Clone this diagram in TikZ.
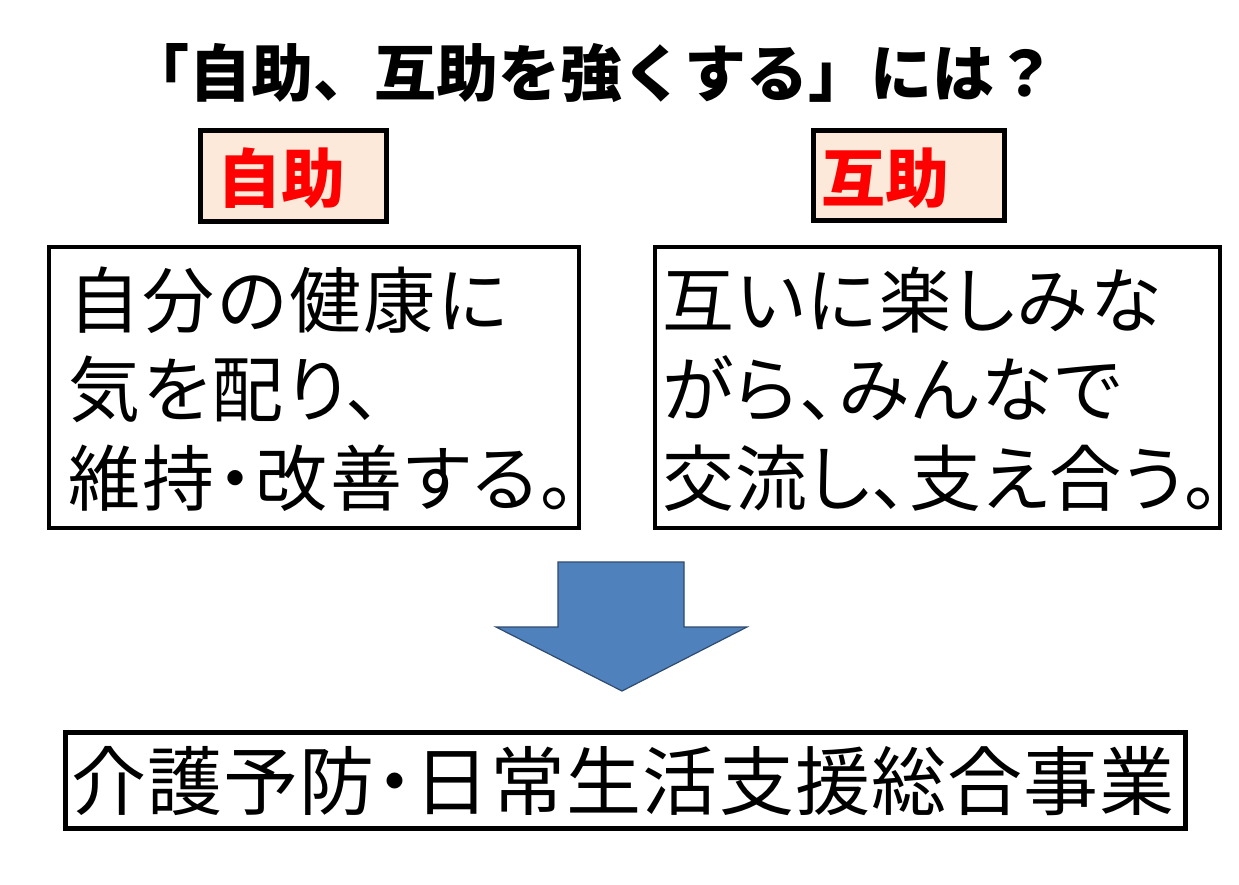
\documentclass[tikz,border=0pt]{standalone}
\usepackage{fontspec}
\newfontfamily\jp{Noto Sans CJK JP}
\newfontfamily\jpp[RawFeature=+palt, LetterSpace=3.5]{Noto Sans CJK JP}
\newfontfamily\jpq[RawFeature=+palt, LetterSpace=2.2]{Noto Sans CJK JP}
\newfontfamily\jps[RawFeature=+palt, LetterSpace=1.5]{Noto Sans CJK JP}
\definecolor{peach}{HTML}{FDE9D9}
\definecolor{arrowblue}{HTML}{4F81BD}
\definecolor{arrowedge}{HTML}{2F4B70}
\begin{document}
\begin{tikzpicture}[x=0.5pt,y=-0.5pt,
  lbl/.style={draw=black, line width=2.5pt, fill=peach, inner sep=0pt},
  bodybox/.style={draw=black, line width=2pt, fill=white, inner sep=0pt},
  lbltxt/.style={anchor=base west, inner sep=0pt, text=red, font=\jp\bfseries\fontsize{32pt}{32pt}\selectfont},
  bodytxt/.style={anchor=base west, inner sep=0pt, font=\jpp\fontsize{36pt}{36pt}\selectfont},
]
\useasboundingbox (0,0) rectangle (1239,885);
\fill[white] (0,0) rectangle (1239,885);

\node[anchor=base, inner sep=0pt, font=\jp\bfseries\fontsize{31pt}{31pt}\selectfont] (title) at (592,96) {「自助、互助を強くする」には？};

\node[lbl, minimum width=93pt, minimum height=45.5pt] (jlbl) at (293,175.5) {};
\node[lbltxt] (jlbltxt) at (217,202) {自助};
\node[lbl, minimum width=95.5pt, minimum height=45pt] (glbl) at (909,175.5) {};
\node[lbltxt] (glbltxt) at (821,202) {互助};

\node[bodybox, minimum width=265pt, minimum height=140.5pt] (jbox) at (314,387.5) {};
\node[bodytxt] (j1) at (68,327) {自分の健康に};
\node[bodytxt] (j2) at (68,416) {気を配り、};
\node[bodytxt] (j3) at (68,505) {維持・改善する。};

\node[bodybox, minimum width=282.5pt, minimum height=140.5pt] (gbox) at (937.5,387.5) {};
\node[bodytxt] (g1) at (662,327) {互いに楽しみな};
\node[bodytxt] (g2) at (662,416) {がら、みんなで};
\node[bodytxt, font=\jpq\fontsize{36pt}{36pt}\selectfont] (g3) at (662,505) {交流し、支え合う\rlap{。}};

\draw[fill=arrowblue, draw=arrowedge, line width=0.6pt, line join=miter]
  (558,562) -- (684,562) -- (684,627) -- (747,627) -- (622,691) -- (496,627) -- (558,627) -- cycle;

\node[bodybox, line width=2.5pt, minimum width=560pt, minimum height=48pt] (sbox) at (625,780) {};
\node[anchor=base west, inner sep=0pt, font=\jps\fontsize{37.5pt}{37.5pt}\selectfont] (stxt) at (71,809) {介護予防・日常生活支援総合事業};
\end{tikzpicture}
\end{document}
